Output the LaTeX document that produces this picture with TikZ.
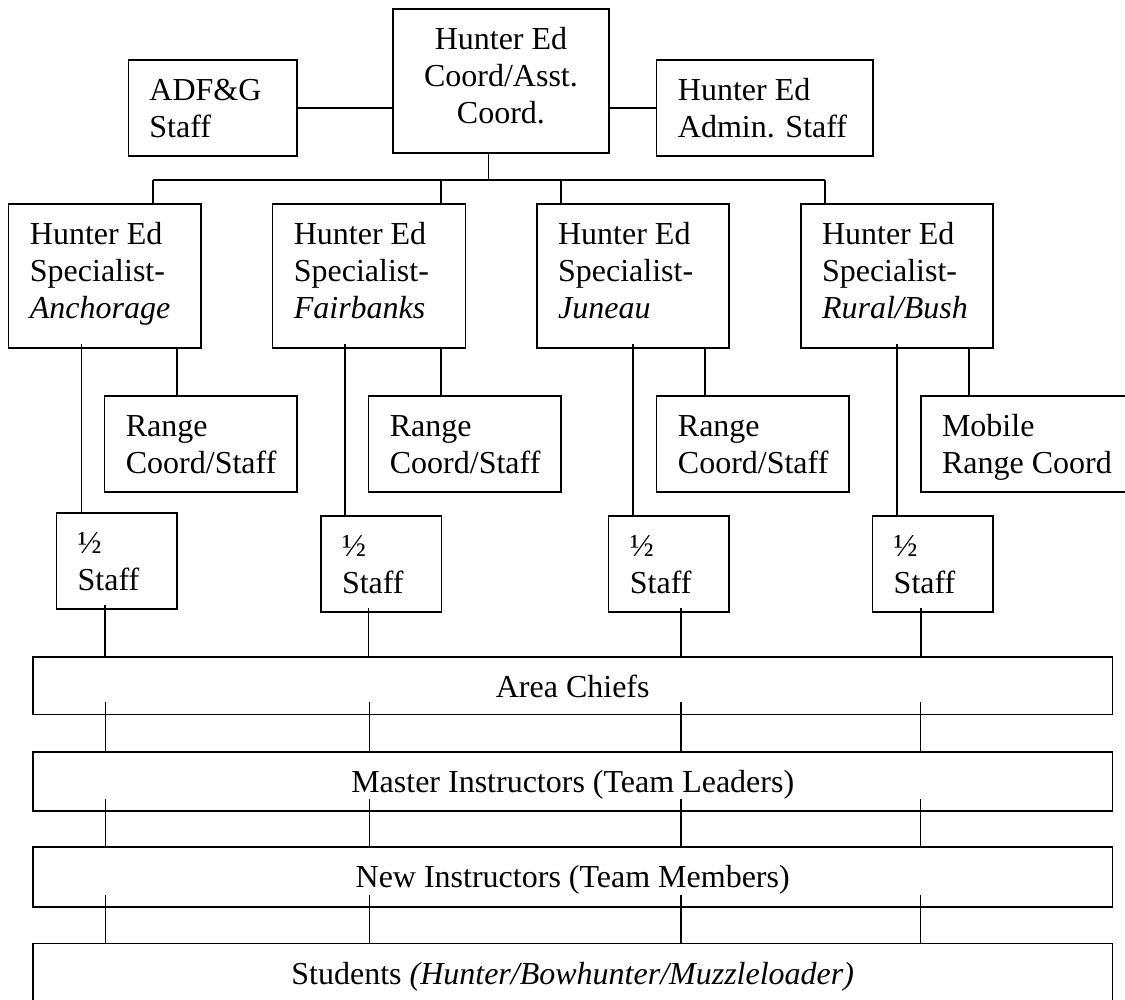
\documentclass[tikz,border=0pt]{standalone}
\usepackage{fontspec}
\setmainfont{Liberation Serif}
\usetikzlibrary{fit,calc}
\newcommand\fl{\rule{0pt}{10pt}}
\begin{document}
\begin{tikzpicture}[x=0.375pt,y=-0.375pt,line width=0.6pt,
  box/.style={draw,line width=0.6pt,inner sep=0pt,outer sep=0pt,rectangle},
  txt/.style={inner sep=0pt,font=\fontsize{12pt}{13.8pt}\selectfont,align=left,anchor=north west},
  ctxt/.style={inner sep=0pt,font=\fontsize{12pt}{13.8pt}\selectfont,align=center,anchor=north}]
\useasboundingbox (0,0) rectangle (1125,999);
\clip (0,0) rectangle (1125,999);

% top level boxes
\node[box,fit={(128.6,60) (296.8,156)}] (adfg) {};
\node[box,fit={(392.9,9) (609,153)}] (top) {};
\node[box,fit={(656.6,60) (872.8,156)}] (admin) {};
% specialists
\node[box,fit={(8.6,204) (201,348)}] (s1) {};
\node[box,fit={(272.5,204) (465.4,348)}] (s2) {};
\node[box,fit={(536.8,204) (729,348)}] (s3) {};
\node[box,fit={(800.7,204) (993.2,348)}] (s4) {};
% range boxes
\node[box,fit={(104.6,396) (296.8,492)}] (r1) {};
\node[box,fit={(368.6,396) (561,492)}] (r2) {};
\node[box,fit={(656.6,396) (849,492)}] (r3) {};
\node[box,fit={(920.7,396) (1135,492)}] (r4) {};
% half staff
\node[box,fit={(56.4,512.7) (177,609)}] (h1) {};
\node[box,fit={(320.7,516) (441.4,612)}] (h2) {};
\node[box,fit={(608.6,516) (729,612)}] (h3) {};
\node[box,fit={(872.4,516) (993.2,612)}] (h4) {};
% bars
\node[box,fit={(33,656.7) (1112.4,714.3)}] (area) {};
\node[box,fit={(33,751.7) (1112.4,811)}] (master) {};
\node[box,fit={(33,846.7) (1112.4,906.7)}] (newi) {};
\node[box,fit={(33,943.3) (1112.4,1015)}] (stud) {};

% texts
\node[txt] (tadfg) at ($(adfg.north west)+(20,13.3)$) {\fl ADF\&G\\Staff};
\node[ctxt] (ttop) at ($(top.north)+(0,13.3)$) {\fl Hunter Ed\\Coord/Asst.\\Coord.};
\node[txt] (tadmin) at ($(admin.north west)+(20.5,13.3)$) {\fl Hunter Ed\\Admin. Staff};
\node[txt] (ts1) at ($(s1.north west)+(20.5,13.3)$) {\fl Hunter Ed\\Specialist-\\\textit{Anchorage}};
\node[txt] (ts2) at ($(s2.north west)+(20.5,13.3)$) {\fl Hunter Ed\\Specialist-\\\textit{Fairbanks}};
\node[txt] (ts3) at ($(s3.north west)+(20.5,13.3)$) {\fl Hunter Ed\\Specialist-\\\textit{Juneau}};
\node[txt] (ts4) at ($(s4.north west)+(20.5,13.3)$) {\fl Hunter Ed\\Specialist-\\\textit{Rural/Bush}};
\node[txt] (tr1) at ($(r1.north west)+(20.5,13.3)$) {\fl Range\\Coord/Staff};
\node[txt] (tr2) at ($(r2.north west)+(20.5,13.3)$) {\fl Range\\Coord/Staff};
\node[txt] (tr3) at ($(r3.north west)+(20.5,13.3)$) {\fl Range\\Coord/Staff};
\node[txt] (tr4) at ($(r4.north west)+(20.5,13.3)$) {\fl Mobile\\Range Coord};
\node[txt] (th1) at ($(h1.north west)+(20.5,13.3)$) {\fl ½\\Staff};
\node[txt] (th2) at ($(h2.north west)+(20.5,13.3)$) {\fl ½\\Staff};
\node[txt] (th3) at ($(h3.north west)+(20.5,13.3)$) {\fl ½\\Staff};
\node[txt] (th4) at ($(h4.north west)+(20.5,13.3)$) {\fl ½\\Staff};
\node[ctxt] (tarea) at ($(area.north)+(0,13.3)$) {\fl Area Chiefs};
\node[ctxt] (tmaster) at ($(master.north)+(0,13.3)$) {\fl Master Instructors (Team Leaders)};
\node[ctxt] (tnewi) at ($(newi.north)+(0,13.3)$) {\fl New Instructors (Team Members)};
\node[ctxt] (tstud) at ($(stud.north)+(0,13.3)$) {\fl Students \textit{(Hunter/Bowhunter/Muzzleloader)}};

% connectors at top
\draw (adfg.east) -- (adfg.east -| top.west);
\draw (top.east |- admin.west) -- (admin.west);
\coordinate (j0) at (488.6,180);
\coordinate (d1) at (152.9,180);
\coordinate (d2) at (441,180);
\coordinate (d3) at (561,180);
\coordinate (d4) at (825,180);
\draw (j0 |- top.south) -- (j0);
\draw (d1) -- (d4);
\foreach \i in {1,2,3,4} \draw (d\i) -- (d\i |- s\i.north);

% specialist to half staff and range
\coordinate (v1) at (81.4,0);
\coordinate (v2) at (345,0);
\coordinate (v3) at (633.2,0);
\coordinate (v4) at (897,0);
\coordinate (w1) at (176.8,0);
\coordinate (w2) at (441,0);
\coordinate (w3) at (705.2,0);
\coordinate (w4) at (969,0);
\foreach \i in {1,2,3,4} {
  \draw ($(v\i |- s\i.south)+(0,-4)$) -- (v\i |- h\i.north);
  \draw (w\i |- s\i.south) -- (w\i |- r\i.north);
}
% half staff to area chiefs
\coordinate (u1) at (104.8,0);
\coordinate (u2) at (368.6,0);
\coordinate (u3) at (681,0);
\coordinate (u4) at (920.7,0);
\foreach \i in {1,2,3,4} \draw ($(u\i |- h\i.south)+(0,-4)$) -- (u\i |- area.north);

% bars
\coordinate (b1) at (105.5,0);
\coordinate (b2) at (369.5,0);
\coordinate (b3) at (680.8,0);
\coordinate (b4) at (920.5,0);
\foreach \i in {1,2,3,4} {
  \draw ($(b\i |- area.south)+(0,-12)$) -- (b\i |- master.north);
  \draw ($(b\i |- master.south)+(0,-12)$) -- (b\i |- newi.north);
  \draw ($(b\i |- newi.south)+(0,-12)$) -- (b\i |- stud.north);
}
\end{tikzpicture}
\end{document}
